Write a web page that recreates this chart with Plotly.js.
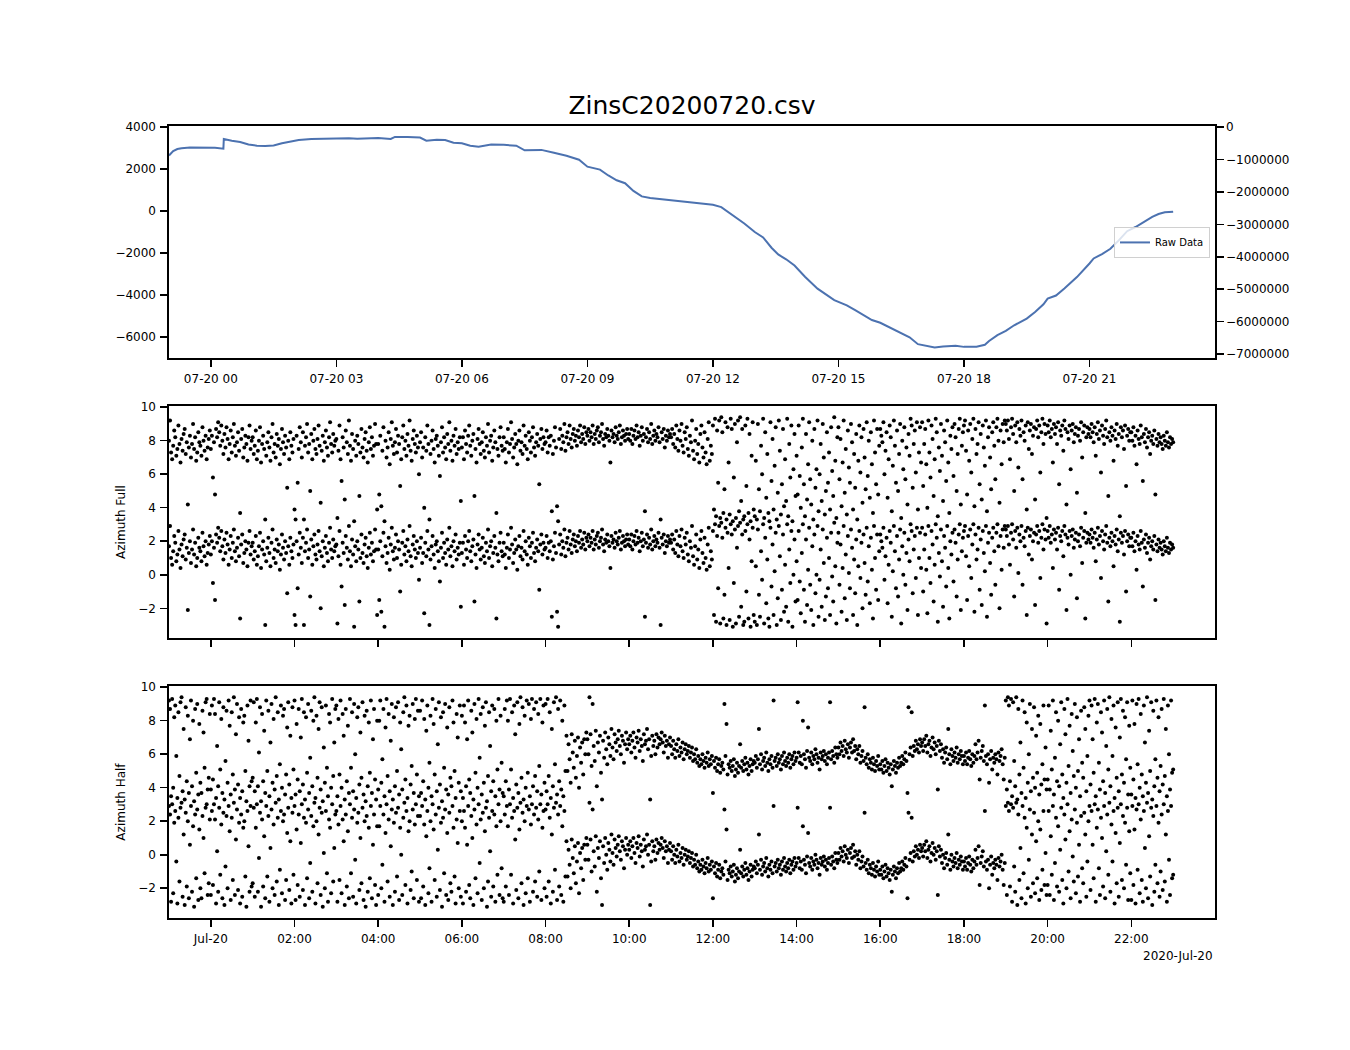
<!DOCTYPE html>
<html>
<head>
<meta charset="utf-8">
<script src="https://cdn.plot.ly/plotly-3.0.1.min.js"></script>
<style>html,body{margin:0;padding:0;background:#fff;}#chart{width:1350px;height:1050px;}</style>
</head>
<body>
<div id="chart"></div>
<script>
// ---------- DATA ----------
const chartTitle = 'ZinsC20200720.csv';
// Raw data: hours relative to 2020-07-20 00:00 and values (left axis)
const rawHours = [-1.0,-0.95,-0.9,-0.8,-0.7,-0.5,-0.3,-0.1,0.1,0.3,0.31,0.5,0.7,0.9,1.1,1.3,1.5,1.7,1.9,2.1,2.4,2.7,3.0,3.3,3.5,3.8,4.0,4.3,4.4,4.7,5.0,5.15,5.4,5.6,5.8,6.0,6.2,6.4,6.7,7.0,7.3,7.5,7.9,8.2,8.5,8.8,9.0,9.3,9.5,9.7,9.9,10.1,10.3,10.5,10.8,11.0,11.4,11.7,12.0,12.2,12.4,12.75,13.0,13.2,13.4,13.56,13.75,13.95,14.2,14.5,14.9,15.2,15.4,15.8,16.0,16.3,16.7,16.9,17.1,17.3,17.5,17.8,18.0,18.3,18.5,18.6,18.8,19.0,19.2,19.5,19.7,19.9,20.0,20.2,20.4,20.7,21.0,21.1,21.3,21.5,21.7,21.9,22.1,22.3,22.5,22.65,22.8,23.0];
const rawValues = [2650,2760,2860,2960,3000,3030,3020,3040,3020,2980,3440,3360,3300,3180,3120,3110,3130,3240,3300,3390,3440,3460,3470,3480,3450,3470,3490,3440,3540,3530,3510,3360,3400,3390,3260,3240,3120,3070,3180,3160,3120,2900,2920,2780,2640,2450,2120,1980,1700,1470,1330,960,700,620,560,530,430,370,300,190,-100,-590,-1000,-1260,-1750,-2070,-2300,-2600,-3130,-3700,-4250,-4500,-4730,-5200,-5330,-5620,-6020,-6350,-6430,-6510,-6460,-6430,-6480,-6470,-6380,-6200,-5920,-5720,-5450,-5130,-4820,-4450,-4180,-4030,-3700,-3150,-2500,-2260,-2050,-1800,-1400,-960,-760,-510,-280,-140,-60,-30];

// Azimuth samples every 1.5 minutes from 2020-07-19 23:00 (wrapped angle in [-pi, pi])
const sampleStartHour = -1;
const sampleStepMinutes = 1.5;
const fullAz = [
/*23*/ 1.7,2.9,1.0,0.6,1.4,2.3,1.9,0.8,1.2,2.6, 1.5,0.4,1.8,1.1,2.1,2.4,0.9,1.6,-2.1,1.3, 2.0,0.7,1.5,2.7,1.2,1.9,0.5,1.0,2.2,1.6, 1.4,0.8,2.5,1.7,1.1,2.0,0.6,1.3,1.8,2.3,
/*00*/ 1.2,2.0,-0.5,1.6,-1.5,2.4,1.9,2.8,2.2,1.4, 2.6,1.7,0.9,2.1,1.3,2.5,1.8,0.6,1.5,2.3, 1.0,1.9,2.7,1.4,0.8,1.6,2.2,1.1,-2.6,1.8, 2.4,0.7,1.3,2.0,1.5,0.5,1.9,2.6,1.2,1.7,
/*01*/ 1.9,0.9,1.4,2.3,0.6,1.1,1.7,2.5,0.4,1.5, 2.0,1.2,-3.0,0.8,1.6,2.2,1.3,0.5,1.9,2.7, 1.0,1.5,0.7,2.1,1.4,1.8,0.3,1.2,2.4,1.6, 0.9,2.0,1.3,-1.1,1.7,0.6,2.2,1.4,1.0,1.8,
/*02*/ -2.4,-3.0,2.0,-0.8,1.2,2.5,1.6,0.7,2.2,-3.0, 1.4,1.9,2.7,1.0,1.5,-1.3,2.1,0.6,1.7,2.4, 1.2,0.9,1.8,2.6,1.4,-2.0,1.1,2.0,0.5,1.6, 2.3,1.3,0.8,1.9,2.8,1.5,1.0,2.1,1.4,1.7,
/*03*/ 1.8,-2.9,1.1,2.6,0.6,-0.7,1.9,1.3,-1.8,2.3, 1.6,0.9,2.9,1.4,0.5,2.1,1.2,-3.1,1.7,0.8, 2.0,1.5,-1.6,1.0,2.4,1.3,0.7,1.8,2.2,1.1, 0.4,1.6,2.5,1.2,1.9,0.8,1.4,2.7,1.5,-2.4,
/*04*/ 1.5,-1.5,2.0,-2.2,1.1,2.5,-3.1,1.7,0.7,1.3, 2.2,0.3,1.8,2.8,1.4,0.9,1.6,2.4,1.0,2.0, 1.5,-1.0,0.6,1.9,2.6,1.2,1.7,0.8,2.1,1.4, 2.9,1.1,0.5,1.8,2.3,1.5,1.0,2.0,1.3,-0.3,
/*05*/ 1.6,2.2,0.7,1.3,-2.3,1.9,1.1,2.6,1.5,-3.0, 0.9,1.7,2.3,1.2,0.4,1.8,2.0,1.4,0.8,-0.4, 1.6,2.5,1.0,1.9,1.3,0.6,2.1,1.5,2.8,1.1, 1.7,0.5,2.0,1.4,2.4,0.9,1.6,1.2,1.9,-1.9,
/*06*/ 1.3,1.9,0.6,2.3,1.5,1.0,2.0,2.6,1.4,0.8, 1.7,2.1,-1.6,1.2,0.4,1.8,2.4,1.5,0.9,1.6, 2.2,1.1,0.7,1.9,1.4,2.7,1.0,1.7,2.0,0.5, 1.3,2.3,1.6,-2.6,1.2,0.8,1.9,2.5,1.4,1.1,
/*07*/ 1.9,1.2,0.4,1.6,2.4,1.0,1.5,2.8,1.8,0.7, 1.3,2.1,1.5,0.3,1.7,2.3,1.1,1.6,0.9,2.6, 1.4,2.0,1.2,0.6,2.2,1.7,1.0,1.9,2.5,1.3, 0.8,1.6,2.1,1.4,-0.9,1.8,2.4,1.2,1.9,1.5,
/*08*/ 1.6,2.3,1.0,1.9,1.4,2.0,-2.5,0.9,1.7,2.5, 1.3,-2.2,-3.1,1.8,2.4,1.2,2.0,1.6,2.7,1.1, 1.9,2.2,1.5,2.6,1.8,1.3,2.1,2.4,1.7,2.0, 1.4,2.3,1.9,2.6,1.6,2.1,1.8,2.5,1.5,2.2,
/*09*/ 2.0,2.4,1.7,2.2,1.9,2.6,1.5,2.1,1.8,2.3, 2.5,1.6,2.0,2.2,2.7,1.8,1.4,2.1,1.9,2.4, 2.0,1.7,0.4,2.3,1.9,2.1,1.6,2.5,2.0,1.8, 2.2,2.6,1.5,1.9,2.3,2.0,1.7,2.1,2.4,1.8,
/*10*/ 2.1,1.7,2.4,1.5,2.0,2.3,1.8,2.6,1.9,2.2, 1.4,2.0,2.5,1.7,2.1,-2.5,1.9,2.4,1.6,2.2, 1.8,2.7,1.5,2.0,2.3,1.7,2.1,1.9,2.5,1.6, -3.0,2.2,1.8,2.4,1.3,2.0,1.7,2.3,1.9,2.1,
/*11*/ 1.9,2.4,1.5,2.1,1.3,2.6,1.8,1.1,2.3,1.7, 2.7,1.4,1.0,2.2,1.8,2.5,1.2,0.8,2.0,1.6, 2.9,1.1,0.6,1.7,2.4,0.9,1.5,0.4,2.1,2.6, 1.3,0.7,2.2,1.0,0.3,1.8,2.8,0.5,1.4,0.9,
/*12*/ 2.6,-2.4,3.0,-2.8,2.3,-0.8,2.9,-2.9,3.1,2.2, -2.6,-1.2,2.8,-3.0,2.5,0.4,-2.7,3.0,2.4,-3.1, -0.5,2.7,-2.9,1.6,2.9,-2.5,3.1,-1.9,2.4,-3.0, -2.8,2.6,-1.0,3.0,-2.6,2.1,-3.1,0.8,2.8,-2.4,
/*13*/ -2.8,0.5,-3.0,2.7,-1.2,-2.5,1.4,-0.3,3.0,-2.9, 2.2,-1.7,0.9,-2.6,-3.1,2.8,-0.7,1.8,-2.4,0.2, 2.5,-3.0,-1.4,2.9,1.1,-2.7,-0.9,2.4,-2.2,0.6, -1.9,3.0,-2.8,1.5,-0.5,2.6,-3.1,0.0,2.1,-1.6,
/*14*/ 0.8,-1.5,2.6,-0.4,-2.3,1.3,3.0,-0.9,-2.8,2.1, -1.8,0.3,2.8,-0.6,-2.1,1.7,-3.0,2.4,-1.1,0.0, 2.9,-2.5,-0.3,1.5,-1.9,2.7,0.7,-2.7,-1.3,2.2, -0.8,1.0,-2.4,2.5,-0.1,-1.6,3.1,0.5,-2.9,1.9,
/*15*/ 2.5,-0.6,1.8,-2.2,0.4,2.9,-1.4,1.2,-2.7,2.3, 0.1,-0.8,2.7,1.6,-2.4,0.9,-1.1,2.1,-3.0,0.5, 2.6,-0.2,1.9,-2.0,2.4,0.7,-1.2,2.8,-0.4,1.7, -1.7,2.2,0.3,-2.6,2.9,1.0,-0.9,2.4,-1.5,1.4,
/*16*/ 2.4,2.0,1.6,2.8,-0.3,1.1,2.2,-1.7,0.6,2.6, 1.9,-2.5,0.2,2.9,1.4,-0.8,2.3,-1.3,0.9,2.7, -2.9,1.7,0.0,2.5,-0.6,1.3,-2.1,2.1,0.8,3.0, 2.6,-1.1,1.5,2.3,-0.2,2.8,-2.4,1.0,2.5,0.4,
/*17*/ 2.8,-1.0,1.5,2.4,0.3,-2.3,2.9,1.0,-0.5,2.6, 1.8,-1.6,0.6,3.0,2.2,-2.8,1.3,-0.1,2.7,0.8, -1.9,2.3,1.6,-0.7,2.9,0.4,-2.6,2.0,1.2,2.5, -0.4,2.7,1.9,-1.3,0.9,2.4,3.0,-2.1,1.4,2.2,
/*18*/ 2.6,2.9,1.1,-1.5,2.3,0.5,2.7,-0.2,1.8,3.0, -2.2,2.4,0.9,1.5,2.8,-0.9,2.1,-1.8,2.6,1.3, 0.2,2.9,-2.5,1.9,2.5,0.7,-1.2,2.2,2.8,1.4, -0.6,2.5,3.0,1.7,-2.0,2.3,0.3,2.7,1.6,2.9,
/*19*/ 2.7,2.3,2.9,1.8,0.6,2.5,3.0,2.1,-1.3,2.6, 1.6,2.8,0.1,2.4,2.0,2.9,-0.6,2.2,1.7,2.6, -2.4,2.8,1.2,2.3,2.7,0.9,2.0,2.5,-1.8,2.4, 2.9,1.9,2.6,-0.2,2.2,3.0,1.5,2.7,2.1,-2.9,
/*20*/ 2.6,2.2,2.9,1.9,2.4,0.4,2.7,2.1,2.5,1.5, 2.8,-0.9,2.3,2.0,2.6,1.1,2.9,2.4,-2.1,2.2, 1.8,2.6,0.0,2.3,2.7,1.6,2.1,2.5,-1.4,2.0, 2.4,1.7,2.8,0.7,2.2,2.6,-2.6,1.9,2.5,2.1,
/*21*/ 2.4,1.9,2.7,2.2,1.6,2.5,0.8,2.1,2.8,1.8, 2.3,-0.2,2.6,2.0,1.5,2.4,2.9,1.9,-1.6,2.2, 1.7,2.5,2.0,0.5,2.3,1.8,2.7,1.4,2.1,-2.8, 2.5,1.9,2.3,1.2,2.6,-1.0,2.0,2.4,1.7,2.2,
/*22*/ 2.2,1.7,2.5,1.4,2.0,0.3,2.3,1.8,1.5,2.6, 1.9,-0.7,2.1,1.6,2.4,1.3,1.9,2.2,0.9,1.7, 2.0,1.5,2.3,-1.5,1.8,1.4,2.1,1.6,1.9,1.5, 1.2,2.0,1.7,1.4,2.2,1.6,1.3,1.9,1.5,1.8,
/*23*/ 1.6
];
const halfAz = [
/*23*/ 2.9,2.4,-2.8,3.0,-2.3,1.9,2.6,-0.4,-2.9,2.2, -1.6,2.8,3.1,-2.5,1.2,-3.0,2.5,-1.9,2.0,-2.6, 0.6,2.9,-2.2,1.7,-3.1,2.4,-1.4,2.7,-2.7,1.5, -2.0,-2.6,2.3,1.0,-1.1,2.8,3.0,-2.4,-1.7,2.1,
/*00*/ -2.4,2.6,-1.8,3.0,2.1,-2.9,0.2,-2.2,2.8,-1.2, 1.8,-2.6,2.5,-3.0,-0.7,2.3,-2.0,2.9,1.4,-2.7, 2.2,-1.5,3.1,-2.4,0.9,2.7,-2.1,1.9,-2.9,2.4, -2.5,1.6,2.0,-1.3,-3.1,2.6,0.5,-2.2,2.9,-1.9,
/*01*/ -1.7,2.8,-2.5,1.6,3.0,-2.2,-0.2,2.5,-3.1,2.1, -1.9,1.1,-2.6,2.9,-1.3,2.3,-2.8,0.4,2.7,-2.0, 1.8,-2.4,3.1,-1.6,2.2,-3.0,-0.9,2.6,-2.3,2.0, 2.4,-2.7,-1.5,1.3,2.8,-2.1,0.8,-2.9,2.5,-1.2,
/*02*/ 2.9,-2.7,1.5,-1.8,2.4,-2.5,0.7,3.0,-2.1,2.2, -3.0,1.9,-1.4,2.7,-2.6,-0.5,2.3,-2.2,1.7,3.1, -2.9,2.0,-1.7,1.2,2.8,-2.4,2.5,-3.1,0.1,-2.0, 2.6,-1.1,-2.8,2.1,1.6,-2.3,3.0,-1.6,0.4,2.4,
/*03*/ 2.6,-2.8,1.8,-1.5,2.9,-2.3,2.1,0.8,-3.0,2.4, -1.9,1.4,-2.6,3.0,-1.1,2.2,-2.5,2.7,-0.3,-2.9, 1.9,2.5,-2.1,1.0,-1.7,2.8,-2.7,2.0,-3.1,2.3, -2.2,1.6,-1.4,2.9,-2.6,0.6,2.4,-1.8,-3.0,1.7,
/*04*/ -2.4,1.7,2.9,-2.0,-0.6,2.4,-2.8,1.3,3.0,-1.6, 2.1,-2.5,0.5,2.7,-3.0,1.9,-2.2,2.5,-1.3,2.8, -2.7,1.6,0.0,-2.4,2.2,3.1,-1.8,2.6,-2.9,1.4, 2.0,-2.1,-1.0,2.7,-2.6,1.8,3.0,-1.5,2.3,-2.8,
/*05*/ 2.3,-2.6,2.9,-1.9,1.8,-3.0,1.1,2.6,-2.3,-0.8, 2.0,-2.8,3.0,1.5,-1.5,2.4,-2.5,0.3,2.8,-2.1, 1.9,-3.1,2.2,-1.1,2.7,-2.4,1.3,-2.7,2.5,-1.7, -2.2,2.9,1.6,-1.3,-2.9,2.1,0.7,-2.0,2.6,-2.5,
/*06*/ 2.0,-2.9,2.6,1.6,-2.2,0.6,2.9,-1.8,-2.6,2.3, 1.0,-3.0,2.7,-1.4,1.8,-2.3,3.0,-0.5,2.1,-2.7, 2.5,-2.0,1.4,2.8,-3.1,-1.6,2.2,0.2,-2.5,2.6, -1.9,2.4,-2.8,1.7,-1.2,3.0,-2.4,2.0,-0.8,-2.6,
/*07*/ -2.8,2.4,-1.9,2.9,1.7,-2.4,3.0,-1.2,2.2,-2.9, 2.6,0.9,-2.1,2.8,-2.6,1.5,3.1,-1.7,2.5,-3.0, 2.0,-2.3,2.9,-1.4,2.7,-2.8,1.8,3.0,-2.2,2.4, -1.6,2.8,-2.5,2.1,-1.0,3.0,-2.7,1.6,2.6,-2.0,
/*08*/ 2.7,-2.5,3.0,-1.6,2.2,-2.9,1.2,-2.2,2.8,-0.9, 3.1,-2.7,2.4,-1.9,2.9,-2.4,1.7,-2.8,2.6,-1.3, 0.8,-1.3,0.3,-0.6,-2.0,0.9,-0.2,-1.1,0.5,-1.7, -0.4,0.7,-2.3,0.1,-0.8,0.4,-1.5,0.6,-0.3,1.0,
/*09*/ 0.6,-0.3,3.1,0.9,-1.0,2.7,0.2,-0.7,1.1,-2.2, 0.4,-0.2,0.8,-1.4,-3.0,0.5,-0.5,1.0,0.0,-0.9, 0.7,0.3,-0.4,1.2,0.1,-0.6,0.9,0.4,-0.1,0.6, 1.1,0.2,-0.3,0.8,0.5,-0.8,0.3,1.0,0.0,0.6,
/*10*/ 0.3,0.8,-0.2,0.5,1.0,0.1,-0.5,0.7,0.4,1.1, -0.1,0.6,0.2,-0.7,0.9,0.3,0.5,1.2,0.0,0.6, -3.0,-0.4,0.8,0.2,0.5,-0.3,0.9,0.1,0.7,0.3, 0.6,1.0,0.4,-0.2,0.8,0.2,0.5,-0.5,0.3,0.7,
/*11*/ 0.2,-0.3,0.5,0.0,-0.5,0.3,-0.1,0.6,-0.4,0.1, -0.2,0.4,-0.6,0.0,0.3,-0.3,-0.1,0.2,-0.5,-0.2, 0.1,-0.7,-0.3,-0.6,0.0,-0.8,-0.4,-1.0,-0.6,-0.9, -0.3,-0.7,-1.1,-0.5,-0.8,-0.2,-1.0,-0.6,-0.9,-0.4,
/*12*/ -2.6,-0.7,-1.1,-0.5,-1.3,-0.9,-0.6,-1.4,-1.0,-0.8, -1.2,2.7,-0.4,1.5,-1.5,-0.9,-1.1,-0.7,-1.3,-1.0, -0.6,-1.6,-1.2,-0.8,-1.4,-1.0,0.3,-1.1,-0.7,-1.3, -0.9,-0.5,-1.2,-0.8,-1.5,-1.0,-0.6,-1.3,-0.9,-0.7,
/*13*/ -0.8,-0.4,-1.1,-0.6,1.2,-0.9,-0.3,-1.2,-0.7,-0.5, -1.0,-0.2,-0.8,-1.3,-0.6,-0.9,-0.4,-1.1,2.9,-0.7, -0.5,-1.0,-0.3,-0.8,-0.6,-1.2,-0.4,-0.9,-0.2,-0.7, -1.0,-0.5,-0.8,-0.3,-1.1,-0.6,-0.4,-0.9,-0.2,-0.7,
/*14*/ -0.5,2.8,-0.2,-0.8,-0.4,-0.9,1.7,-0.3,-0.6,-1.1, -0.1,1.3,-0.5,-0.7,-0.2,-0.9,-0.4,-0.6,0.0,-0.3, -0.8,-0.5,-1.2,-0.2,-0.6,-0.4,-0.1,-0.7,-0.3,-0.9, -0.5,-0.2,2.8,-0.6,-0.1,-0.4,-0.8,0.1,-0.3,-0.5,
/*15*/ 0.1,-0.3,0.4,-0.1,0.2,-0.4,0.5,0.0,-0.2,0.3, -0.5,0.1,0.4,-0.2,0.6,-0.1,0.2,-0.6,0.0,-0.3, 0.2,-0.8,-0.4,-0.1,-0.7,2.5,-0.5,-0.9,-0.3,-1.1, -0.6,-0.8,-1.2,-0.5,-0.9,-1.3,-0.7,-1.0,-0.4,-1.2,
/*16*/ -0.9,-1.2,-0.7,-1.4,-1.0,-0.6,-1.3,-0.8,-1.1,-1.5, -0.9,-2.2,-1.2,-0.7,-1.0,-1.4,-0.8,-1.1,-0.5,-1.0, -0.8,-0.4,-0.9,-0.6,-0.2,-0.7,-2.6,2.5,-0.3,0.1, 2.2,-0.4,0.2,-0.1,0.5,0.0,0.3,-0.2,0.6,0.2,
/*17*/ 0.4,-0.1,0.6,0.2,0.8,-0.2,0.3,0.5,-0.4,0.1, 0.7,0.0,0.4,-0.3,0.2,-2.4,0.5,-0.1,0.3,-0.5, 0.0,-0.8,-0.2,0.1,-0.6,1.2,-0.3,-0.9,0.0,-0.4, -0.7,-0.2,-0.5,0.1,-0.8,-0.3,-0.6,-0.1,-0.4,-0.9,
/*18*/ -0.4,-0.7,-0.2,-0.9,-0.5,-0.1,-0.6,-1.0,-0.3,-0.8, -0.4,0.3,-0.6,-0.2,0.5,-1.8,-0.5,-0.1,0.2,-0.7, 2.6,-0.4,-0.9,-0.3,-2.0,-0.6,-0.1,-1.2,-0.5,-0.8, -0.3,-0.6,-1.5,-0.2,-0.7,-0.4,0.0,-0.9,-1.8,-0.5,
/*19*/ 2.9,-2.4,3.1,2.6,-1.9,3.0,-2.8,2.8,-0.7,-2.2, 3.1,-3.0,2.4,-1.5,0.4,-2.6,2.9,-1.1,2.2,-2.9, 1.6,-2.0,-0.3,2.7,-2.5,1.2,-1.7,2.5,-2.3,0.8, -1.4,2.0,-2.7,1.5,-2.1,-0.9,2.6,-1.8,0.1,-2.4,
/*20*/ -1.8,2.6,-2.4,1.1,-1.2,2.9,-2.7,-0.5,2.2,-1.9, 1.7,-2.2,0.3,2.8,-1.5,-2.9,2.4,0.9,-2.0,3.0, -1.0,1.4,-2.6,2.1,-0.1,-1.6,2.7,-2.3,1.9,-1.3, 0.6,-2.8,2.3,-0.8,-1.7,2.5,1.2,-2.5,-0.4,2.0,
/*21*/ 2.9,-2.1,2.6,0.6,-1.4,3.0,-2.8,1.6,2.7,-0.8, -2.4,2.2,1.0,-1.9,2.9,-2.6,0.2,2.4,-1.2,3.1, -2.2,1.8,-0.4,2.6,-2.9,1.3,-1.7,2.8,-2.5,0.7, 3.0,-1.5,2.3,-2.0,1.9,-0.6,2.8,-2.7,1.4,-1.1,
/*22*/ -2.7,2.9,-1.8,1.5,-2.9,2.7,-0.9,3.0,-2.3,2.1, -1.5,-2.8,2.6,0.4,-2.0,3.1,-2.6,1.1,-1.3,2.8, -3.0,2.3,-2.2,-0.6,2.9,-1.7,1.9,-2.5,-1.0,2.4, -2.1,3.0,-1.6,1.2,-2.8,2.6,-0.3,-2.4,2.9,-1.4,
/*23*/ -1.2
];

const topTickHours = [0,3,6,9,12,15,18,21];
const topTickText = ['07-20 00','07-20 03','07-20 06','07-20 09','07-20 12','07-20 15','07-20 18','07-20 21'];
const bottomTickHours = [0,2,4,6,8,10,12,14,16,18,20,22];
const bottomTickText = ['Jul-20','02:00','04:00','06:00','08:00','10:00','12:00','14:00','16:00','18:00','20:00','22:00'];
const rightTickVals = [0,-1000000,-2000000,-3000000,-4000000,-5000000,-6000000,-7000000];
const rightTickText = ['0','\u22121000000','\u22122000000','\u22123000000','\u22124000000','\u22125000000','\u22126000000','\u22127000000'];
const xRangeHours = [-1, 24];

// ---------- HELPERS ----------
function toDate(h){
  const d = new Date(Date.UTC(2020,6,20) + Math.round(h*3600000));
  return d.toISOString().slice(0,19).replace('T',' ');
}
const TWO_PI = 2*Math.PI;
const fullTimes = fullAz.map((_, i) => toDate(sampleStartHour + i*sampleStepMinutes/60));
const halfTimes = halfAz.map((_, i) => toDate(sampleStartHour + i*sampleStepMinutes/60));

const FONT = 'DejaVu Sans, Liberation Sans, sans-serif';
const markerStyle = {color:'#000000', size:4};

const traces = [
  {x: rawHours.map(toDate), y: rawValues, type:'scatter', mode:'lines', name:'Raw Data',
   line:{color:'#4c72b0', width:2}, xaxis:'x', yaxis:'y', showlegend:true},
  {x: [], y: [], type:'scatter', mode:'lines', xaxis:'x', yaxis:'y2', showlegend:false, hoverinfo:'skip'},
  {x: fullTimes, y: fullAz, type:'scatter', mode:'markers', marker:markerStyle, xaxis:'x2', yaxis:'y3', showlegend:false},
  {x: fullTimes, y: fullAz.map(v => v + TWO_PI), type:'scatter', mode:'markers', marker:markerStyle, xaxis:'x2', yaxis:'y3', showlegend:false},
  {x: halfTimes, y: halfAz, type:'scatter', mode:'markers', marker:markerStyle, xaxis:'x3', yaxis:'y4', showlegend:false},
  {x: halfTimes, y: halfAz.map(v => v + TWO_PI), type:'scatter', mode:'markers', marker:markerStyle, xaxis:'x3', yaxis:'y4', showlegend:false}
];

const axisCommon = {
  showline:true, linecolor:'#000', linewidth:1.6, mirror:true,
  ticks:'outside', ticklen:7, tickwidth:1.6, tickcolor:'#000',
  showgrid:false, zeroline:false,
  tickfont:{family:FONT, size:12, color:'#000'}
};
const xRange = xRangeHours.map(toDate);

const layout = {
  width:1350, height:1050,
  paper_bgcolor:'#fff', plot_bgcolor:'#fff',
  margin:{l:169, r:135, t:126, b:132, autoexpand:false},
  font:{family:FONT, color:'#000'},
  title:{text:chartTitle, x:0.5, xref:'paper', xanchor:'center', y:1-105/1050, yref:'container', yanchor:'middle',
         font:{family:FONT, size:25, color:'#000'}},
  showlegend:true,
  legend:{x:0.9952, xanchor:'right', y:0.853, yanchor:'middle', bgcolor:'rgba(255,255,255,0.8)',
          bordercolor:'#d0d0d0', borderwidth:1, font:{family:FONT, size:10, color:'#000'}, itemwidth:30},
  xaxis: Object.assign({}, axisCommon, {domain:[0,1], anchor:'y', type:'date', range:xRange,
          tickmode:'array', tickvals:topTickHours.map(toDate), ticktext:topTickText, ticklabelstandoff:2}),
  yaxis: Object.assign({}, axisCommon, {domain:[0.7071,1], anchor:'x', range:[-7010,4060], dtick:2000, tick0:0,
          exponentformat:'none', mirror:true, ticklabelstandoff:2}),
  yaxis2: Object.assign({}, axisCommon, {overlaying:'y', side:'right', anchor:'x', range:[-7120000,30000],
          tickmode:'array', tickvals:rightTickVals, ticktext:rightTickText, mirror:false}),
  xaxis2: Object.assign({}, axisCommon, {domain:[0,1], anchor:'y3', type:'date', range:xRange,
          tickmode:'array', tickvals:bottomTickHours.map(toDate), ticktext:bottomTickText, showticklabels:false}),
  yaxis3: Object.assign({}, axisCommon, {domain:[0.3535,0.6465], anchor:'x2', range:[-3.77,10.05], dtick:2, tick0:0,
          ticklabelstandoff:2,
          title:{text:'Azimuth Full', font:{family:FONT, size:12, color:'#000'}, standoff:10}}),
  xaxis3: Object.assign({}, axisCommon, {domain:[0,1], anchor:'y4', type:'date', range:xRange,
          tickmode:'array', tickvals:bottomTickHours.map(toDate), ticktext:bottomTickText, ticklabelstandoff:2}),
  yaxis4: Object.assign({}, axisCommon, {domain:[0,0.2929], anchor:'x3', range:[-3.77,10.05], dtick:2, tick0:0,
          ticklabelstandoff:2,
          title:{text:'Azimuth Half', font:{family:FONT, size:12, color:'#000'}, standoff:10}}),
  annotations:[
    {text:'2020-Jul-20', xref:'paper', yref:'paper', x:1, y:-0.048, xanchor:'right', yanchor:'middle',
     showarrow:false, font:{family:FONT, size:12, color:'#000'}}
  ]
};

Plotly.newPlot('chart', traces, layout, {displayModeBar:false, staticPlot:true});
</script>
</body>
</html>
